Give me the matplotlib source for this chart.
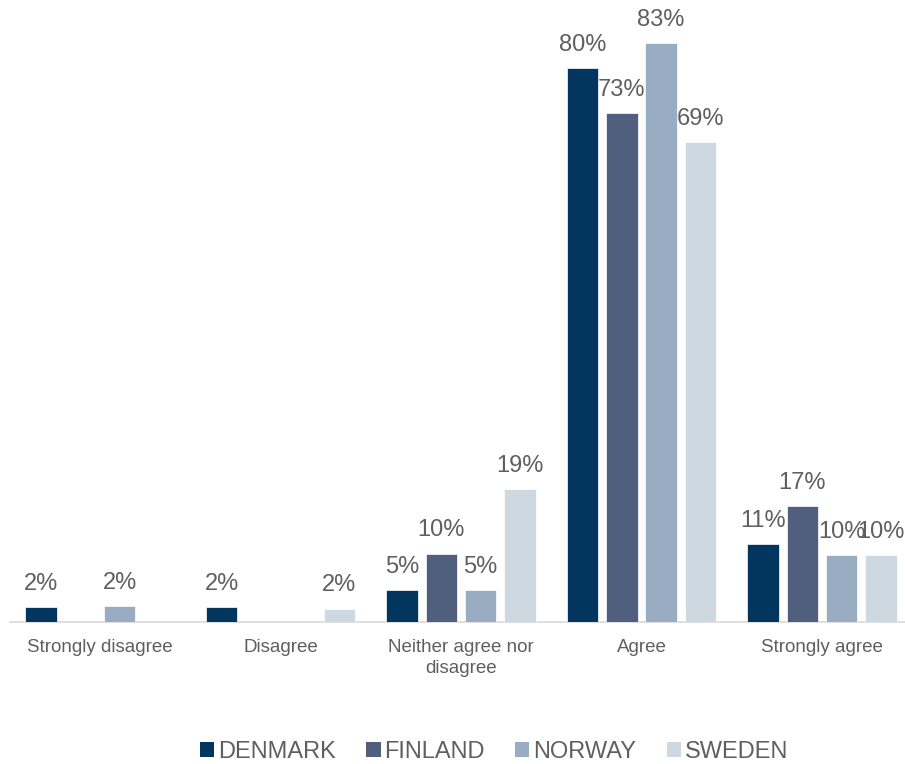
import numpy as np
import matplotlib
matplotlib.use('Agg')
import matplotlib.pyplot as plt
from matplotlib.patches import Patch

plt.rcParams['font.family'] = ['Liberation Sans', 'DejaVu Sans']

# Data (percent), None = no bar shown
categories = ['Strongly disagree', 'Disagree', 'Neither agree nor\ndisagree', 'Agree', 'Strongly agree']
countries = ['DENMARK', 'FINLAND', 'NORWAY', 'SWEDEN']
denmark = [2.1, 2.1, 4.6, 79.6, 11.2]
finland = [None, None, 9.8, 73.1, 16.6]
norway = [2.3, None, 4.6, 83.2, 9.6]
sweden = [None, 1.9, 19.1, 68.9, 9.6]

colors = ['#02365f', '#515f7f', '#98adc1', '#cdd8e1']
text_color = '#5f5f5f'

series = [denmark, finland, norway, sweden]

fig = plt.figure(figsize=(9.05, 7.64), dpi=100)
ax = fig.add_axes([9.75 / 905, 142 / 764, 902.5 / 905, 590 / 764])

x = np.arange(len(categories))
step = 0.2177
width = 0.1745

for j, (vals, col) in enumerate(zip(series, colors)):
    for i, v in enumerate(vals):
        if v is None:
            continue
        xpos = x[i] + (j - 1.5) * step
        ax.bar(xpos, v, width=width, color=col, edgecolor='white', linewidth=0.5, zorder=3)
        # labels overlap a bit in the last group, same as the original
        ax.annotate('%.0f%%' % v, (xpos, v), xytext=(0, 12.5), textcoords='offset points',
                    ha='center', va='baseline', fontsize=17, color=text_color,
                    annotation_clip=False, zorder=4)

ax.set_xlim(-0.5, len(categories) - 0.5)
ax.set_ylim(0, 590 / 6.96)
ax.set_xticks(x)
ax.set_xticklabels(categories, fontsize=13.5, color=text_color, linespacing=1.3)
ax.tick_params(axis='x', length=0, pad=12)
ax.set_yticks([])
for s in ['top', 'left', 'right']:
    ax.spines[s].set_visible(False)
ax.spines['bottom'].set_color('#d9d9d9')
ax.spines['bottom'].set_linewidth(1.2)
ax.spines['bottom'].set_zorder(2)

handles = [Patch(facecolor=c, edgecolor='none') for c in colors]
leg = fig.legend(handles, countries, loc='center', bbox_to_anchor=(494 / 905, 1 - 752 / 764),
                 ncol=4, frameon=False, fontsize=17, handlelength=0.6, handleheight=0.6,
                 handletextpad=0.15, columnspacing=1.3)
for t in leg.get_texts():
    t.set_color(text_color)

fig.savefig('out.png', dpi=100)
